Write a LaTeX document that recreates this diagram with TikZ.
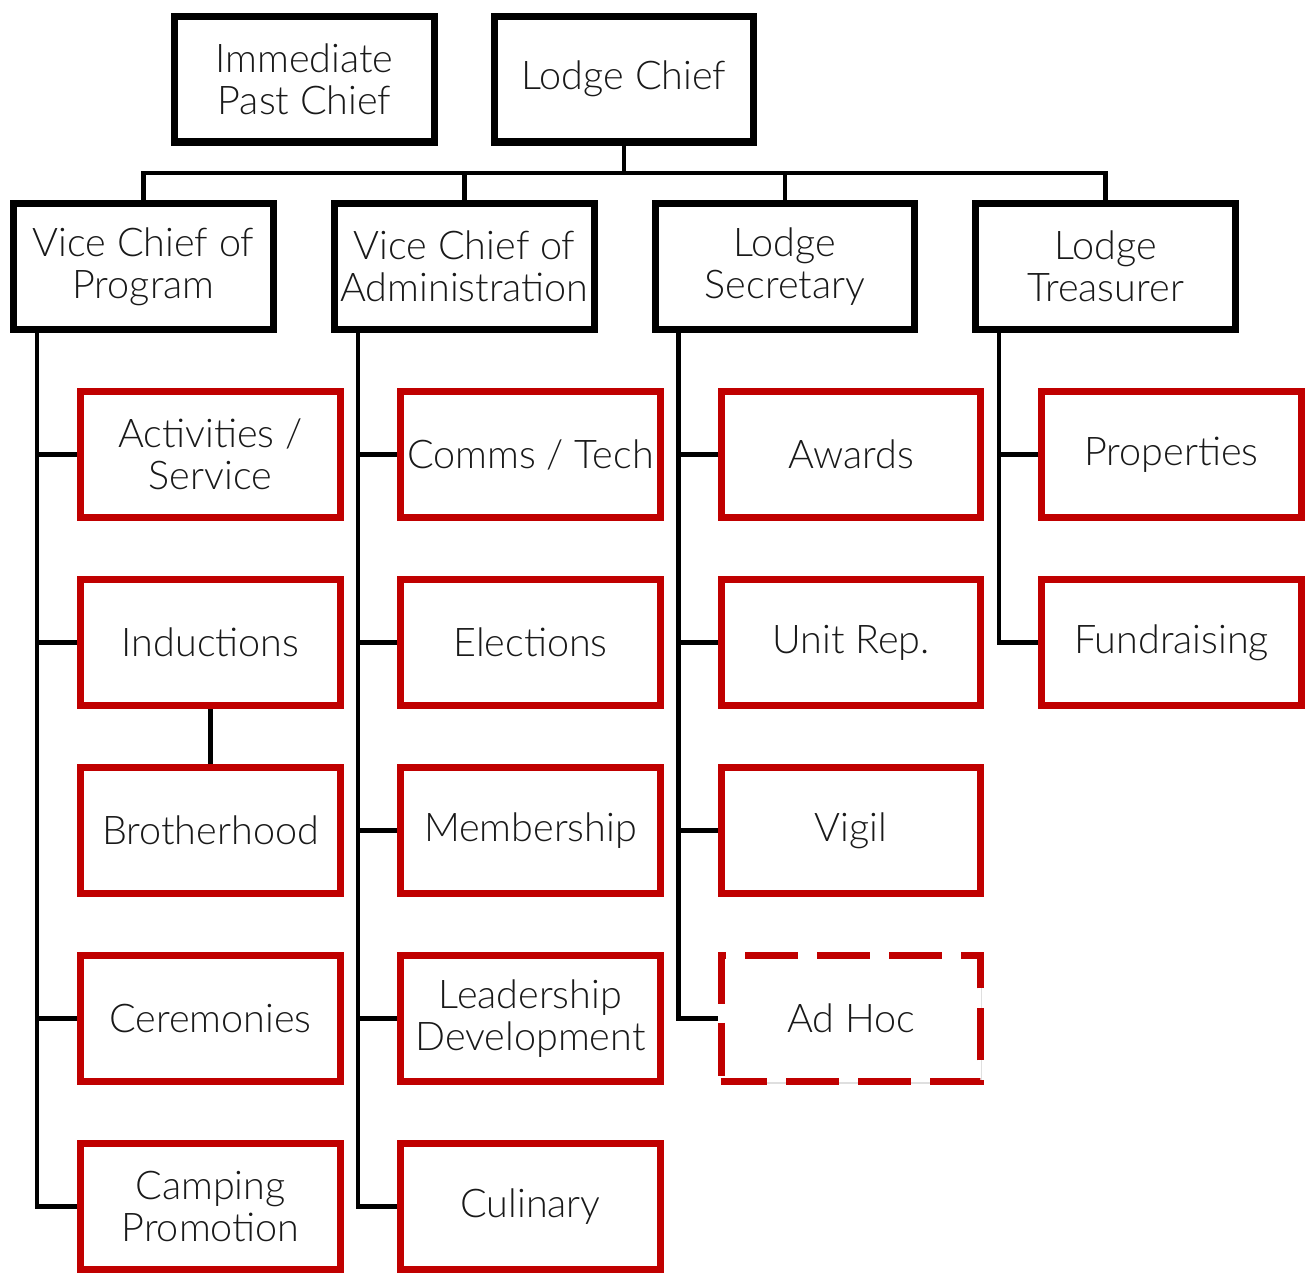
\documentclass[tikz,border=0pt]{standalone}
\usepackage{fontspec}
\setmainfont{Lato}[UprightFont={* Light}]
\usetikzlibrary{shadows}

\definecolor{lodgered}{RGB}{192,0,0}

\begin{document}
\begin{tikzpicture}[x=0.02cm, y=-0.02cm,
    every node/.style={font=\fontsize{22.5}{24}\selectfont, align=center, text=black!90},
    box/.style={draw, line width=4pt, fill=white, minimum width=5.2cm, minimum height=2.52cm, inner sep=0pt,
      drop shadow={opacity=0.25, shadow xshift=0.6pt, shadow yshift=-1.6pt}},
    officer/.style={box, draw=black},
    cmte/.style={box, draw=lodgered},
    adhoc/.style={cmte, dash pattern=on 30pt off 11pt, dash phase=4pt},
    link/.style={line width=2.3pt, black}]
  \useasboundingbox (0,0) rectangle (1309,1276);

  % Officers
  \node[officer] (ipc) at (304.5,79) {Immediate\\Past Chief};
  \node[officer] (chief) at (624,79) {Lodge Chief};
  \node[officer] (vcp) at (143.5,266.5) {Vice Chief of\\Program};
  \node[officer] (vca) at (464.5,266.5) {Vice Chief of\\Administration};
  \node[officer] (sec) at (785,266.5) {Lodge\\Secretary};
  \node[officer] (tre) at (1105.5,266.5) {Lodge\\Treasurer};

  % Committees
  \node[cmte] (act) at (210.5,454.5) {Activities /\\Service};
  \node[cmte] (ind) at (210.5,642.5) {Inductions};
  \node[cmte] (bro) at (210.5,830.5) {Brotherhood};
  \node[cmte] (cer) at (210.5,1018.5) {Ceremonies};
  \node[cmte] (camp) at (210.5,1206.5) {Camping\\Promotion};

  \node[cmte] (comms) at (530.5,454.5) {Comms / Tech};
  \node[cmte] (elec) at (530.5,642.5) {Elections};
  \node[cmte] (mem) at (530.5,830.5) {Membership};
  \node[cmte] (lead) at (530.5,1018.5) {Leadership\\Development};
  \node[cmte] (cul) at (530.5,1206.5) {Culinary};

  \node[cmte] (awd) at (851,454.5) {Awards};
  \node[cmte] (unit) at (851,642.5) {Unit Rep.};
  \node[cmte] (vig) at (851,830.5) {Vigil};
  \node[adhoc] (adh) at (851,1018.5) {Ad Hoc};

  \node[cmte] (prop) at (1171.5,454.5) {Properties};
  \node[cmte] (fund) at (1171.5,642.5) {Fundraising};

  % Chief to vice chiefs
  \coordinate (bus) at (0,173);
  \draw[link] (chief.south) -- (chief.south |- bus);
  \draw[link] (vcp.north) -- (vcp.north |- bus) -- (tre.north |- bus) -- (tre.north);
  \draw[link] (vca.north) -- (vca.north |- bus);
  \draw[link] (sec.north) -- (sec.north |- bus);

  % Trunks and branches
  \path (vcp.south west) ++(27,0) coordinate (t1);
  \path (vca.south west) ++(27,0) coordinate (t2);
  \path (sec.south west) ++(27,0) coordinate (t3);
  \path (tre.south west) ++(27,0) coordinate (t4);
  \draw[link] (t1) |- (camp.west);
  \draw[link] (t2) |- (cul.west);
  \draw[link] (t3) |- (adh.west);
  \draw[link] (t4) |- (fund.west);
  \foreach \n in {act,ind,cer}
    \draw[link] (\n.west) -- (\n.west -| t1);
  \foreach \n in {comms,elec,mem,lead}
    \draw[link] (\n.west) -- (\n.west -| t2);
  \foreach \n in {awd,unit,vig}
    \draw[link] (\n.west) -- (\n.west -| t3);
  \draw[link] (prop.west) -- (prop.west -| t4);
  \draw[link] (ind.south) -- (bro.north);
\end{tikzpicture}
\end{document}
